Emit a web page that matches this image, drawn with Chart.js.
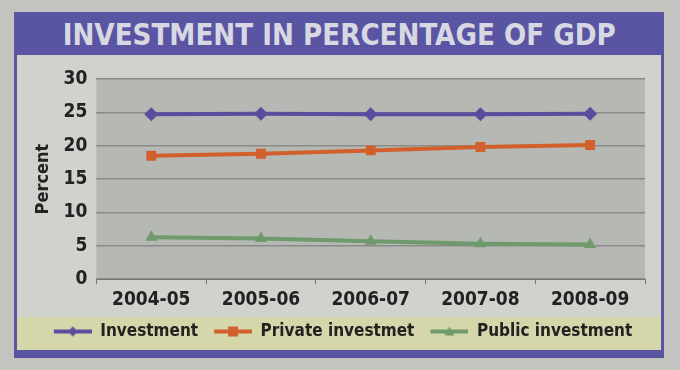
<!DOCTYPE html>
<html>
<head>
<meta charset="utf-8">
<script src="https://cdn.jsdelivr.net/npm/chart.js@4/dist/chart.umd.min.js"></script>
<style>
  body { margin: 0; background: #c3c4c0; width: 680px; height: 370px; overflow: hidden; position: relative; }
  #frame { position: absolute; left: 14px; top: 12px; width: 644px; height: 338px;
    background: #d1d2ce; border-left: 3px solid #5a55a2; border-right: 3px solid #5a55a2; border-bottom: 8px solid #5a55a2; }
  #title { height: 43px; background: #5a55a2; color: #d8d8e2; text-align: center;
    font: bold 31px "DejaVu Sans Condensed", Arial, sans-serif; line-height: 45px; }
  #title span { display: inline-block; transform: scaleX(0.94); }
  #wrap { position: absolute; left: 0; top: 43px; width: 644px; height: 295px; }
</style>
</head>
<body>
<div id="frame">
  <div id="title"><span>INVESTMENT IN PERCENTAGE OF GDP</span></div>
  <div id="wrap"><canvas id="chart" width="644" height="295"></canvas></div>
</div>
<script>
// data
let years = ["2004-05", "2005-06", "2006-07", "2007-08", "2008-09"];
let investment = [24.7, 24.8, 24.7, 24.7, 24.8];
let privateInv = [18.5, 18.8, 19.3, 19.8, 20.1];
let publicInv = [6.3, 6.1, 5.7, 5.3, 5.2];
let yTicks = [0, 5, 10, 15, 20, 25, 30];

const FONT = "'DejaVu Sans Condensed', Arial, sans-serif";

// legend icon: short line with the marker on it (blank gap on the left)
function legendIcon(color, style) {
  let c = document.createElement("canvas");
  c.width = 46; c.height = 14;
  let g = c.getContext("2d");
  g.strokeStyle = color; g.fillStyle = color; g.lineWidth = 4;
  g.beginPath(); g.moveTo(8, 7); g.lineTo(46, 7); g.stroke();
  g.beginPath();
  if (style === "rectRot") { g.moveTo(27, 2); g.lineTo(32, 7); g.lineTo(27, 12); g.lineTo(22, 7); }
  else if (style === "rect") { g.rect(22, 2, 10, 10); }
  else { g.moveTo(27, 2); g.lineTo(32, 11); g.lineTo(22, 11); }
  g.closePath(); g.fill();
  return c;
}

// plot background + yellow legend band
const bands = {
  id: "bands",
  beforeDraw(chart) {
    let ctx = chart.ctx, a = chart.chartArea, lg = chart.legend;
    ctx.save();
    ctx.fillStyle = "#d6d6ab";
    ctx.fillRect(0, lg.top + 2, chart.width, chart.height - lg.top);
    ctx.fillStyle = "#b6b8b4";
    ctx.fillRect(a.left, a.top, a.right - a.left, a.bottom - a.top);
    ctx.restore();
  }
};

let series = [
  { label: "Investment", data: investment, color: "#5b4d9e", style: "rectRot", r: 7 },
  { label: "Private investmet", data: privateInv, color: "#d2602c", style: "rect", r: 7 },
  { label: "Public investment", data: publicInv, color: "#6e9a6c", style: "triangle", r: 7 }
];

new Chart(document.getElementById("chart"), {
  type: "line",
  data: {
    labels: years,
    datasets: series.map(s => ({
      label: s.label, data: s.data,
      borderColor: s.color, backgroundColor: s.color,
      borderWidth: 4, pointStyle: s.style, pointRadius: s.r,
      pointBorderWidth: 0, tension: 0
    }))
  },
  options: {
    responsive: false,
    animation: false,
    layout: { padding: { left: 16, right: 16, top: 24, bottom: 0 } },
    plugins: {
      tooltip: { enabled: false },
      legend: {
        position: "bottom",
        labels: {
          font: { family: FONT, size: 17, weight: "bold" },
          color: "#222",
          usePointStyle: true,
          pointStyleWidth: 46,
          padding: 8,
          generateLabels(chart) {
            return series.map((s, i) => ({
              text: s.label, datasetIndex: i, fontColor: "#222",
              pointStyle: legendIcon(s.color, s.style), lineWidth: 0
            }));
          }
        }
      }
    },
    scales: {
      x: {
        offset: true,
        grid: { display: true, drawOnChartArea: false, color: "#777", tickLength: 5, offset: true },
        border: { color: "#777" },
        ticks: { color: "#222", font: { family: FONT, size: 19, weight: "bold" }, padding: 4 }
      },
      y: {
        min: 0, max: 30,
        afterBuildTicks(axis) { axis.ticks = yTicks.map(v => ({ value: v })); },
        grid: { color: "#8a8a88", lineWidth: 1.5, drawTicks: false },
        border: { display: false },
        title: { display: true, text: "Percent", color: "#222", font: { family: FONT, size: 18, weight: "bold" }, padding: 0 },
        ticks: { color: "#222", font: { family: FONT, size: 19, weight: "bold" }, padding: 9, autoSkip: false }
      }
    }
  },
  plugins: [bands]
});
</script>
</body>
</html>
